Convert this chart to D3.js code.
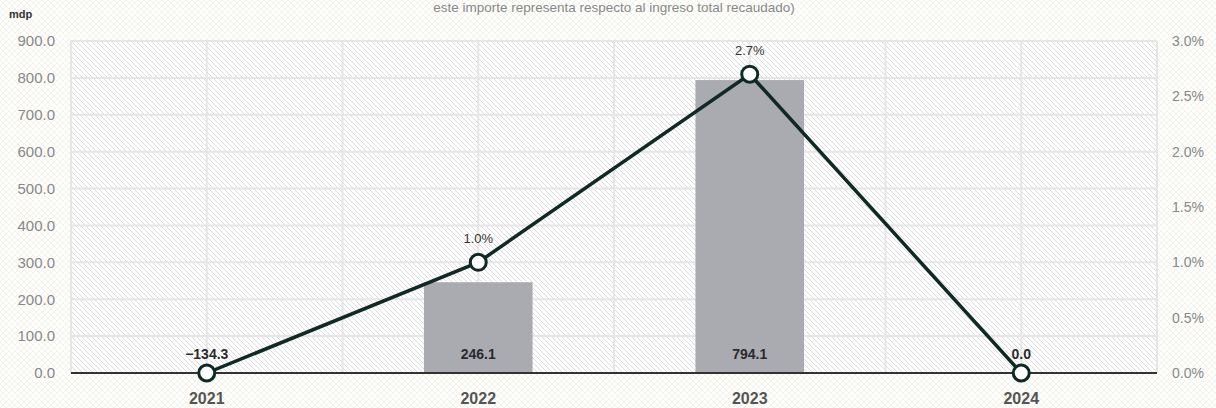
<!DOCTYPE html>
<html>
<head>
<meta charset="utf-8">
<script src="https://cdn.jsdelivr.net/npm/d3@7"></script>
<style>
  html, body { margin: 0; padding: 0; background: #fff; }
  svg { display: block; font-family: "Liberation Sans", Arial, sans-serif; }
</style>
</head>
<body>
<div class="chart"></div>
<script>
// datos
const years = ["2021", "2022", "2023", "2024"];
const amounts = [-134.3, 246.1, 794.1, 0.0];       // mdp (barras)
const shares = [0.0, 1.0, 2.7, 0.0];                 // % (línea)
const leftTicks = [0, 100, 200, 300, 400, 500, 600, 700, 800, 900];
const rightTicks = [0, 0.5, 1.0, 1.5, 2.0, 2.5, 3.0];

const W = 1216, H = 408;
const margin = { top: 41, right: 59, bottom: 35, left: 71 };
const w = W - margin.left - margin.right;
const h = H - margin.top - margin.bottom;

const svg = d3.select(".chart").append("svg")
  .attr("width", W).attr("height", H);

const defs = svg.append("defs");
// fondo cuadriculado tenue
const bg = defs.append("pattern").attr("id", "bgHatch")
  .attr("patternUnits", "userSpaceOnUse").attr("width", 6).attr("height", 6);
bg.append("rect").attr("width", 6).attr("height", 6).attr("fill", "#fff");
bg.append("path").attr("d", "M0,0L6,6M6,0L0,6")
  .attr("stroke", "#f4f3e8").attr("stroke-width", 1);
// rayado del área de trazado
const hatch = defs.append("pattern").attr("id", "plotHatch")
  .attr("patternUnits", "userSpaceOnUse").attr("width", 5).attr("height", 5);
hatch.append("rect").attr("width", 5).attr("height", 5).attr("fill", "#fff");
hatch.append("path").attr("d", "M-1,-1L6,6M-1,4L1,6M4,-1L6,1")
  .attr("stroke", "#dcdcdc").attr("stroke-width", 1);

svg.append("rect").attr("width", W).attr("height", H).attr("fill", "url(#bgHatch)");

svg.append("text")
  .attr("x", 614).attr("y", 12)
  .attr("text-anchor", "middle")
  .attr("font-size", 13.5).attr("fill", "#888")
  .text("este importe representa respecto al ingreso total recaudado)");

svg.append("text")
  .attr("x", 9).attr("y", 18)
  .attr("font-size", 11).attr("font-weight", "bold").attr("fill", "#333")
  .text("mdp");

const g = svg.append("g").attr("transform", `translate(${margin.left},${margin.top})`);

const x = d3.scaleBand().domain(years).range([0, w]);
const y = d3.scaleLinear().domain([0, 900]).range([h, 0]);
const y2 = d3.scaleLinear().domain([0, 3]).range([h, 0]);

g.append("rect").attr("width", w).attr("height", h).attr("fill", "url(#plotHatch)");

// rejilla
const vLines = [];
years.forEach(d => { vLines.push(x(d)); vLines.push(x(d) + x.bandwidth() / 2); });
vLines.push(w);
g.selectAll(".vgrid").data(vLines).enter().append("line")
  .attr("x1", d => d).attr("x2", d => d)
  .attr("y1", 0).attr("y2", h)
  .attr("stroke", "#e6e6e6").attr("stroke-width", 2);
g.selectAll(".hgrid").data(leftTicks.slice(1)).enter().append("line")
  .attr("x1", 0).attr("x2", w)
  .attr("y1", d => y(d)).attr("y2", d => y(d))
  .attr("stroke", "#e6e6e6").attr("stroke-width", 2);

// ejes
const yAxis = g.append("g")
  .call(d3.axisLeft(y).tickValues(leftTicks).tickFormat(d3.format(".1f")).tickSize(0).tickPadding(16));
yAxis.select(".domain").remove();
yAxis.selectAll("text").attr("font-size", 15).attr("fill", "#888")
  .attr("font-family", "Liberation Sans, Arial, sans-serif");

const y2Axis = g.append("g").attr("transform", `translate(${w},0)`)
  .call(d3.axisRight(y2).tickValues(rightTicks).tickFormat(d => d3.format(".1f")(d) + "%").tickSize(0).tickPadding(15));
y2Axis.select(".domain").remove();
y2Axis.selectAll("text").attr("font-size", 14).attr("fill", "#888")
  .attr("font-family", "Liberation Sans, Arial, sans-serif");

// barras
const bw = x.bandwidth() * 0.4;
g.selectAll(".bar").data(years.map((d, i) => ({ year: d, v: amounts[i] })).filter(d => d.v > 0))
  .enter().append("rect")
  .attr("x", d => x(d.year) + (x.bandwidth() - bw) / 2)
  .attr("width", bw)
  .attr("y", d => y(d.v))
  .attr("height", d => h - y(d.v))
  .attr("fill", "#aaaab1");

// línea de cero
g.append("line").attr("x1", 0).attr("x2", w).attr("y1", h).attr("y2", h)
  .attr("stroke", "#333").attr("stroke-width", 2);

// etiquetas de barras
g.selectAll(".blabel").data(years).enter().append("text")
  .attr("x", d => x(d) + x.bandwidth() / 2)
  .attr("y", h - 14)
  .attr("text-anchor", "middle")
  .attr("font-size", 14).attr("font-weight", "bold").attr("fill", "#2b2b2b")
  .text((d, i) => (amounts[i] < 0 ? "\u2212" + d3.format(".1f")(-amounts[i]) : d3.format(".1f")(amounts[i])));

// línea de porcentaje
const cx = d => x(d) + x.bandwidth() / 2;
const line = d3.line().x((d, i) => cx(years[i])).y(d => y2(d));
g.append("path").datum(shares)
  .attr("d", line).attr("fill", "none")
  .attr("stroke", "#0d2a25").attr("stroke-width", 3.5);

g.selectAll(".pt").data(shares).enter().append("circle")
  .attr("cx", (d, i) => cx(years[i])).attr("cy", d => y2(d))
  .attr("r", 8).attr("fill", "#fff")
  .attr("stroke", "#0d2a25").attr("stroke-width", 3);

g.selectAll(".plabel").data(shares.map((d, i) => ({ v: d, year: years[i] })).filter(d => d.v > 0))
  .enter().append("text")
  .attr("x", d => cx(d.year)).attr("y", d => y2(d.v) - 19)
  .attr("text-anchor", "middle")
  .attr("font-size", 13).attr("fill", "#333")
  .text(d => d3.format(".1f")(d.v) + "%");

// eje x
g.selectAll(".xlabel").data(years).enter().append("text")
  .attr("x", d => cx(d)).attr("y", h + 31)
  .attr("text-anchor", "middle")
  .attr("font-size", 16).attr("font-weight", "bold").attr("fill", "#555")
  .text(d => d);
</script>
</body>
</html>
